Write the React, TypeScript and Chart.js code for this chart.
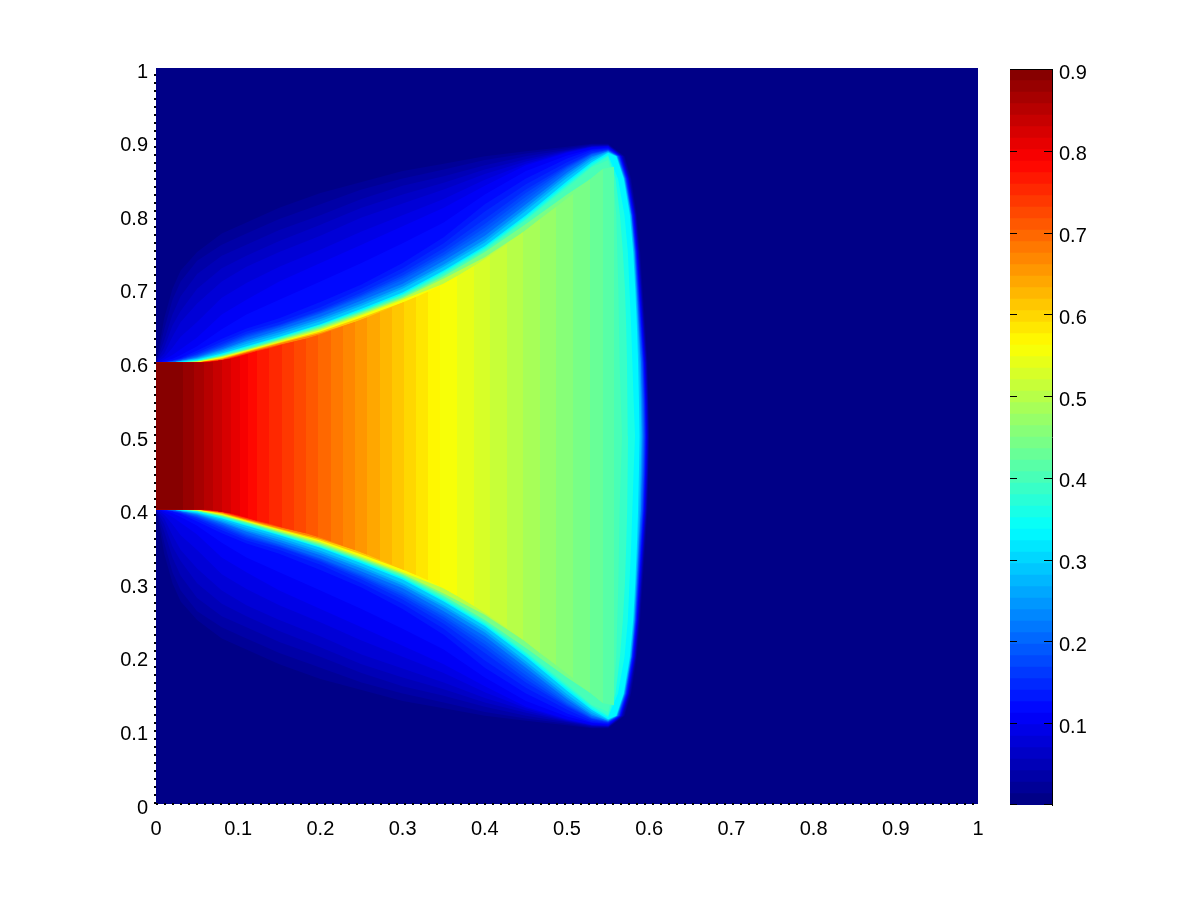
import React, { useEffect, useRef } from "react";
import { Chart, registerables } from "chart.js";

Chart.register(...registerables);

// Field value range
const colorbarMax = 0.9;
const colorCount = 64;
const axisTicks = [0, 0.1, 0.2, 0.3, 0.4, 0.5, 0.6, 0.7, 0.8, 0.9, 1];
const colorbarTicks = [0.1, 0.2, 0.3, 0.4, 0.5, 0.6, 0.7, 0.8, 0.9];

// Upper half of the contours of the blue fringe (the lower half mirrors it about y = 0.5)
const gridX = [0, 0.005, 0.01, 0.02, 0.03, 0.05, 0.08, 0.11, 0.15, 0.2, 0.25, 0.3, 0.35, 0.4, 0.45, 0.5, 0.53, 0.55];
const rightY = [0.88, 0.85, 0.8, 0.75, 0.7, 0.65, 0.6, 0.55, 0.5];

const top1 = [0.6, 0.63, 0.66, 0.7, 0.725, 0.75, 0.775, 0.79, 0.81, 0.83, 0.845, 0.86, 0.87, 0.88, 0.887, 0.893, 0.897, 0.897];
const top2 = [0.6, 0.622, 0.645, 0.685, 0.71, 0.738, 0.76, 0.775, 0.795, 0.815, 0.835, 0.85, 0.862, 0.875, 0.884, 0.891, 0.896, 0.896];
const top3 = [0.6, 0.615, 0.63, 0.665, 0.69, 0.72, 0.745, 0.76, 0.78, 0.8, 0.822, 0.84, 0.853, 0.868, 0.88, 0.889, 0.895, 0.895];
const top4 = [0.6, 0.61, 0.62, 0.65, 0.67, 0.7, 0.728, 0.745, 0.765, 0.787, 0.81, 0.828, 0.844, 0.862, 0.876, 0.888, 0.894, 0.895];
const top5 = [0.6, 0.606, 0.612, 0.635, 0.655, 0.68, 0.71, 0.73, 0.75, 0.772, 0.797, 0.816, 0.835, 0.856, 0.873, 0.887, 0.893, 0.894];
const top6 = [0.6, 0.603, 0.607, 0.62, 0.635, 0.655, 0.688, 0.708, 0.73, 0.753, 0.778, 0.8, 0.822, 0.848, 0.87, 0.886, 0.893, 0.894];
const top7 = [0.6, 0.601, 0.604, 0.61, 0.618, 0.634, 0.665, 0.685, 0.71, 0.735, 0.76, 0.785, 0.81, 0.84, 0.868, 0.885, 0.892, 0.893];
const top8 = [0.6, 0.6, 0.602, 0.605, 0.61, 0.622, 0.645, 0.665, 0.685, 0.71, 0.735, 0.762, 0.79, 0.828, 0.86, 0.881, 0.89, 0.892];
const top9 = [0.6, 0.6, 0.601, 0.603, 0.606, 0.616, 0.632, 0.646, 0.66, 0.682, 0.706, 0.735, 0.77, 0.815, 0.85, 0.877, 0.889, 0.891];
const top10 = [0.6, 0.6, 0.6, 0.602, 0.605, 0.613, 0.628, 0.642, 0.655, 0.675, 0.7, 0.728, 0.762, 0.805, 0.842, 0.872, 0.887, 0.89];
const top11 = [0.6, 0.6, 0.6, 0.602, 0.604, 0.611, 0.625, 0.639, 0.651, 0.671, 0.695, 0.722, 0.755, 0.795, 0.835, 0.868, 0.885, 0.889];
const top12 = [0.6, 0.6, 0.6, 0.602, 0.604, 0.61, 0.623, 0.637, 0.65, 0.669, 0.692, 0.718, 0.75, 0.788, 0.83, 0.866, 0.884, 0.889];
const top13 = [0.6, 0.6, 0.6, 0.601, 0.603, 0.609, 0.621, 0.635, 0.648, 0.667, 0.69, 0.715, 0.746, 0.783, 0.825, 0.864, 0.883, 0.888];
const top14 = [0.6, 0.6, 0.6, 0.601, 0.603, 0.608, 0.62, 0.633, 0.647, 0.666, 0.688, 0.712, 0.743, 0.778, 0.82, 0.862, 0.882, 0.888];
const top16 = [0.6, 0.6, 0.6, 0.6, 0.602, 0.607, 0.618, 0.63, 0.644, 0.662, 0.684, 0.707, 0.738, 0.772, 0.815, 0.858, 0.88, 0.887];
const top18 = [0.6, 0.6, 0.6, 0.6, 0.602, 0.606, 0.616, 0.628, 0.641, 0.659, 0.68, 0.703, 0.733, 0.767, 0.81, 0.855, 0.878, 0.887];
const top20 = [0.6, 0.6, 0.6, 0.6, 0.602, 0.605, 0.614, 0.625, 0.638, 0.656, 0.677, 0.7, 0.73, 0.763, 0.806, 0.851, 0.875, 0.886];
const top23 = [0.6, 0.6, 0.6, 0.6, 0.601, 0.604, 0.612, 0.622, 0.635, 0.652, 0.673, 0.695, 0.725, 0.758, 0.8, 0.846, 0.872, 0.885];

const right1 = [0.57, 0.578, 0.585, 0.589, 0.592, 0.595, 0.598, 0.599, 0.6];
const right2 = [0.569, 0.577, 0.584, 0.588, 0.591, 0.594, 0.597, 0.5985, 0.5995];
const right3 = [0.568, 0.576, 0.5835, 0.5875, 0.5905, 0.5935, 0.5965, 0.598, 0.599];
const right4 = [0.567, 0.5755, 0.583, 0.587, 0.59, 0.593, 0.596, 0.5975, 0.5985];
const right5 = [0.5665, 0.575, 0.5825, 0.5865, 0.5895, 0.5925, 0.5955, 0.597, 0.598];
const right6 = [0.566, 0.5745, 0.582, 0.586, 0.589, 0.592, 0.595, 0.5965, 0.5975];
const right7 = [0.5655, 0.574, 0.5815, 0.5855, 0.5885, 0.5915, 0.5945, 0.596, 0.597];
const right8 = [0.565, 0.5735, 0.581, 0.585, 0.588, 0.591, 0.594, 0.5955, 0.5965];
const right9 = [0.5645, 0.573, 0.5805, 0.5848, 0.5875, 0.5905, 0.5935, 0.595, 0.596];
const right10 = [0.564, 0.5725, 0.58, 0.5843, 0.587, 0.59, 0.593, 0.5945, 0.5955];
const right11 = [0.5635, 0.572, 0.5795, 0.5838, 0.5867, 0.5895, 0.5925, 0.594, 0.595];
const right12 = [0.563, 0.5715, 0.579, 0.5835, 0.5862, 0.589, 0.592, 0.5935, 0.5945];
const right13 = [0.5625, 0.5712, 0.5788, 0.5832, 0.5858, 0.5885, 0.5915, 0.593, 0.594];
const right14 = [0.562, 0.571, 0.5785, 0.5828, 0.5855, 0.588, 0.591, 0.5925, 0.5935];
const right16 = [0.5615, 0.5705, 0.5783, 0.5824, 0.585, 0.5875, 0.59, 0.5915, 0.5925];
const right18 = [0.561, 0.57, 0.578, 0.582, 0.5845, 0.5868, 0.5895, 0.5905, 0.5915];
const right20 = [0.5605, 0.5695, 0.5773, 0.5813, 0.5838, 0.586, 0.588, 0.5895, 0.5905];
const right23 = [0.56, 0.569, 0.5765, 0.5805, 0.583, 0.585, 0.5865, 0.5875, 0.5885];

const fringeLevels: [number, number[], number[]][] = [
  [1, top1, right1], [2, top2, right2], [3, top3, right3], [4, top4, right4],
  [5, top5, right5], [6, top6, right6], [7, top7, right7], [8, top8, right8],
  [9, top9, right9], [10, top10, right10], [11, top11, right11], [12, top12, right12],
  [13, top13, right13], [14, top14, right14], [16, top16, right16], [18, top18, right18],
  [20, top20, right20], [23, top23, right23],
];

// Core: colour level, the x where that level ends, and the shock height there
const coreLevels = [63, 62, 61, 60, 59, 58, 57, 56, 55, 54, 53, 52, 51, 50, 49, 48, 47, 46, 45, 44, 43, 42, 41, 40, 39, 38, 37, 36, 35, 34, 33, 32, 31, 30, 29];
const coreEnd = [0.0328, 0.0462, 0.0584, 0.0693, 0.0803, 0.0912, 0.1022, 0.1119, 0.1229, 0.1375, 0.1533, 0.1679, 0.1825, 0.1971, 0.2129, 0.2275, 0.2421, 0.2567, 0.2725, 0.2871, 0.3017, 0.3163, 0.3309, 0.3455, 0.3662, 0.3869, 0.4063, 0.427, 0.4465, 0.4672, 0.4866, 0.5073, 0.528, 0.5438, 0.5572];
const coreTop = [0.6, 0.6, 0.6, 0.601, 0.603, 0.605, 0.608, 0.611, 0.615, 0.619, 0.624, 0.628, 0.632, 0.637, 0.643, 0.649, 0.655, 0.661, 0.668, 0.675, 0.682, 0.689, 0.696, 0.704, 0.717, 0.731, 0.745, 0.761, 0.777, 0.795, 0.811, 0.829, 0.849, 0.863, 0.866];

// Transition levels across the shock, as [x, y] along the upper edge
const edge25 = [[0, 0.6], [0.03, 0.6], [0.05, 0.603], [0.08, 0.611], [0.11, 0.621], [0.15, 0.634], [0.2, 0.651], [0.25, 0.671], [0.3, 0.693], [0.35, 0.723], [0.4, 0.756], [0.45, 0.798], [0.5, 0.843], [0.53, 0.87], [0.55, 0.882], [0.562, 0.85], [0.57, 0.8], [0.574, 0.75], [0.576, 0.7], [0.578, 0.65], [0.5795, 0.6], [0.581, 0.55], [0.5827, 0.5]];
const edge27 = [[0, 0.6], [0.03, 0.6], [0.05, 0.602], [0.08, 0.61], [0.11, 0.62], [0.15, 0.633], [0.2, 0.65], [0.25, 0.67], [0.3, 0.692], [0.35, 0.721], [0.4, 0.754], [0.45, 0.795], [0.5, 0.84], [0.53, 0.867], [0.55, 0.88], [0.559, 0.85], [0.5645, 0.8], [0.568, 0.75], [0.5705, 0.7], [0.572, 0.65], [0.573, 0.6], [0.5735, 0.55], [0.5742, 0.5]];
const edge28 = [[0, 0.6], [0.03, 0.6], [0.05, 0.602], [0.08, 0.609], [0.11, 0.619], [0.15, 0.632], [0.2, 0.649], [0.25, 0.669], [0.3, 0.691], [0.35, 0.719], [0.4, 0.752], [0.45, 0.793], [0.5, 0.837], [0.53, 0.865], [0.55, 0.875], [0.556, 0.85], [0.56, 0.8], [0.5625, 0.7], [0.564, 0.6], [0.5669, 0.5]];
const edge31 = [[0, 0.6], [0.03, 0.6], [0.05, 0.602], [0.08, 0.609], [0.11, 0.618], [0.15, 0.631], [0.2, 0.648], [0.25, 0.668], [0.3, 0.689], [0.35, 0.717], [0.4, 0.75], [0.45, 0.788], [0.5, 0.828], [0.528, 0.849]];
const edge35 = [[0, 0.6], [0.03, 0.6], [0.05, 0.601], [0.08, 0.608], [0.11, 0.617], [0.15, 0.63], [0.2, 0.646], [0.25, 0.666], [0.3, 0.687], [0.35, 0.714], [0.4, 0.743], [0.4465, 0.777]];
const edge39 = [[0, 0.6], [0.03, 0.6], [0.05, 0.601], [0.08, 0.607], [0.11, 0.616], [0.15, 0.628], [0.2, 0.644], [0.25, 0.664], [0.3, 0.685], [0.35, 0.707], [0.3662, 0.717]];
const edge43 = [[0, 0.6], [0.03, 0.6], [0.05, 0.6], [0.08, 0.606], [0.11, 0.615], [0.15, 0.627], [0.2, 0.642], [0.25, 0.661], [0.3017, 0.682]];
const edge47 = [[0, 0.6], [0.03, 0.6], [0.05, 0.6], [0.08, 0.605], [0.11, 0.614], [0.15, 0.626], [0.2, 0.64], [0.2421, 0.655]];
const edge51 = [[0, 0.6], [0.03, 0.6], [0.05, 0.6], [0.08, 0.604], [0.11, 0.613], [0.15, 0.624], [0.1825, 0.632]];
const edge55 = [[0, 0.6], [0.03, 0.6], [0.05, 0.6], [0.08, 0.603], [0.1229, 0.615]];

const edgeLevels: Record<number, number[][]> = {
  31: edge31, 35: edge35, 39: edge39, 43: edge43, 47: edge47, 51: edge51, 55: edge55,
};

// Jet colour map, 64 steps
function jet(k: number): string {
  const t = (k + 0.5) / colorCount;
  const ramp = (c: number) => Math.round(255 * Math.max(0, Math.min(1, 1.5 - Math.abs(4 * t - c))));
  return `rgb(${ramp(3)},${ramp(2)},${ramp(1)})`;
}

type Pt = { x: number; y: number };

function levelDatasets(k: number, upper: Pt[]) {
  const base = { showLine: true, pointRadius: 0, borderWidth: 0, tension: 0, backgroundColor: jet(k) };
  return [
    { ...base, label: `level ${k}`, data: upper, fill: "+1" },
    { ...base, label: `level ${k} lower`, data: upper.map((p) => ({ x: p.x, y: 1 - p.y })), fill: false },
  ];
}

function buildContours() {
  const painted: { k: number; upper: Pt[] }[] = [];
  painted.push({ k: 0, upper: [{ x: 0, y: 1 }, { x: 1, y: 1 }] });
  fringeLevels.forEach(([k, top, right]) => {
    painted.push({
      k,
      upper: [
        ...gridX.map((x, i) => ({ x, y: top[i] })),
        ...rightY.map((y, i) => ({ x: right[i], y })),
      ],
    });
  });
  [[25, edge25], [27, edge27], [28, edge28]].forEach(([k, e]: any) => {
    painted.push({ k, upper: e.map(([x, y]: number[]) => ({ x, y })) });
  });
  for (let i = coreLevels.length - 1; i >= 0; i--) {
    const k = coreLevels[i];
    const e = edgeLevels[k];
    const upper = e
      ? e.map(([x, y]) => ({ x, y }))
      : [{ x: 0, y: 0.6 }, ...coreEnd.slice(0, i + 1).map((x, j) => ({ x, y: coreTop[j] }))];
    painted.push({ k, upper });
  }
  // the first dataset is painted last, so the highest level goes first
  return painted.reverse().flatMap((p) => levelDatasets(p.k, p.upper));
}

const tickFont = { family: "'Liberation Sans', Arial, sans-serif", size: 20 };

// Dotted left and bottom axis lines
const dottedAxes = {
  id: "dottedAxes",
  afterDatasetsDraw(chart: any) {
    const { ctx, chartArea: a } = chart;
    ctx.save();
    ctx.strokeStyle = "#000";
    ctx.lineWidth = 2;
    ctx.setLineDash([2, 6]);
    ctx.beginPath();
    ctx.moveTo(a.left - 1, a.bottom);
    ctx.lineTo(a.left - 1, a.top + 6);
    ctx.moveTo(a.left, a.bottom);
    ctx.lineTo(a.right, a.bottom);
    ctx.stroke();
    ctx.restore();
  },
};

const innerTicks = {
  id: "innerTicks",
  afterDatasetsDraw(chart: any) {
    const { ctx, chartArea: a, scales } = chart;
    ctx.save();
    ctx.strokeStyle = "#000";
    ctx.lineWidth = 1;
    ctx.beginPath();
    ctx.moveTo(a.left, Math.round(a.top) + 0.5);
    ctx.lineTo(a.right, Math.round(a.top) + 0.5);
    scales.y.ticks.forEach((t: any) => {
      const py = Math.round(scales.y.getPixelForValue(t.value)) + 0.5;
      ctx.moveTo(a.left, py);
      ctx.lineTo(a.left + 7, py);
      ctx.moveTo(a.right - 8, py);
      ctx.lineTo(a.right, py);
    });
    const b = Math.round(a.bottom) - 0.5;
    ctx.moveTo(a.left, b);
    ctx.lineTo(a.left + 7, b);
    ctx.moveTo(a.right - 8, b);
    ctx.lineTo(a.right, b);
    ctx.stroke();
    ctx.restore();
  },
};

export default function App() {
  const mainRef = useRef<HTMLCanvasElement>(null);
  const barRef = useRef<HTMLCanvasElement>(null);

  useEffect(() => {
    const main = new Chart(mainRef.current as HTMLCanvasElement, {
      type: "scatter",
      data: { datasets: buildContours() as any },
      options: {
        animation: false,
        responsive: false,
        events: [],
        layout: { padding: { left: 116, top: 68, right: 222, bottom: 57 } },
        plugins: { legend: { display: false }, tooltip: { enabled: false } },
        scales: {
          x: {
            type: "linear",
            min: 0,
            max: 1,
            afterFit: (s: any) => { s.height = 40; },
            afterBuildTicks: (s: any) => { s.ticks = axisTicks.map((value) => ({ value })); },
            grid: { display: false, drawTicks: false },
            border: { display: false },
            ticks: { color: "#000", font: tickFont, padding: 13, maxRotation: 0, autoSkip: false, callback: (v: any) => String(v) },
          },
          y: {
            type: "linear",
            min: 0,
            max: 1,
            afterFit: (s: any) => { s.width = 40; },
            afterBuildTicks: (s: any) => { s.ticks = axisTicks.map((value) => ({ value })); },
            grid: { display: false, drawTicks: false },
            border: { display: false },
            ticks: { color: "#000", font: tickFont, padding: 8, labelOffset: 4, autoSkip: false, callback: (v: any) => String(v) },
          },
        },
      } as any,
      plugins: [dottedAxes],
    });

    const bands = Array.from({ length: colorCount }, (_, k) => k);
    const bar = new Chart(barRef.current as HTMLCanvasElement, {
      type: "bar",
      data: {
        labels: ["colorbar"],
        datasets: bands.map((k) => ({
          label: `band ${k}`,
          data: [((k + 1) * colorbarMax) / colorCount],
          backgroundColor: jet(k),
          borderWidth: 0,
          grouped: false,
          barPercentage: 1,
          categoryPercentage: 1,
        })),
      },
      options: {
        animation: false,
        responsive: false,
        events: [],
        layout: { padding: { left: 1010, top: 69, right: 108, bottom: 96 } },
        plugins: { legend: { display: false }, tooltip: { enabled: false } },
        scales: {
          x: { display: false },
          y: {
            position: "right",
            min: 0,
            max: colorbarMax,
            afterFit: (s: any) => { s.width = 40; },
            afterBuildTicks: (s: any) => { s.ticks = colorbarTicks.map((value) => ({ value })); },
            grid: { display: false, drawTicks: false },
            border: { display: true, color: "#000", width: 1 },
            ticks: { color: "#000", font: tickFont, padding: 7, labelOffset: 4, autoSkip: false, callback: (v: any) => String(v) },
          },
        },
      } as any,
      plugins: [innerTicks],
    });

    return () => {
      main.destroy();
      bar.destroy();
    };
  }, []);

  const layer: React.CSSProperties = { position: "absolute", left: 0, top: 0 };
  return (
    <div style={{ position: "absolute", left: 0, top: 0, width: 1200, height: 901, background: "#fff" }}>
      <canvas ref={mainRef} width={1200} height={901} style={layer} />
      <canvas ref={barRef} width={1200} height={901} style={layer} />
    </div>
  );
}
